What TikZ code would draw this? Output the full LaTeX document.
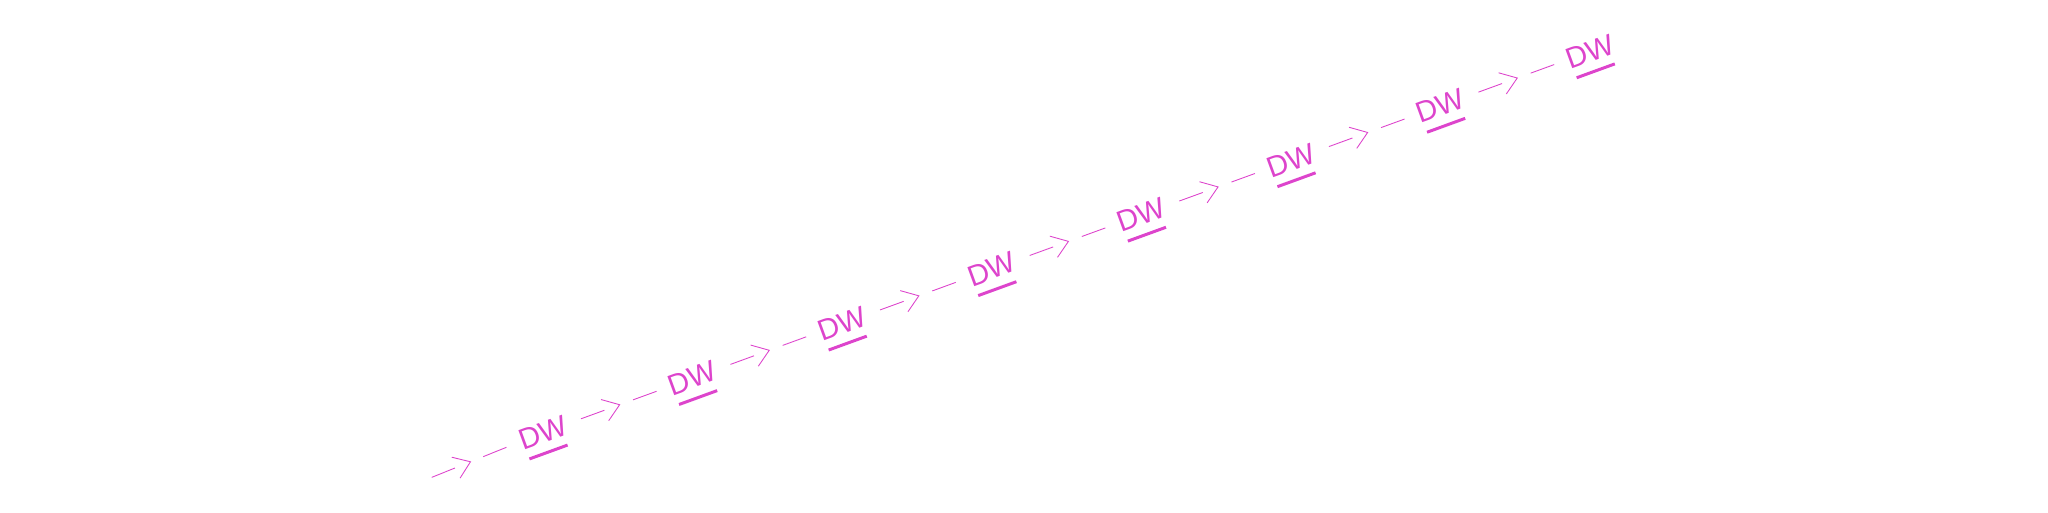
\documentclass[tikz,border=0pt]{standalone}
\usepackage{fontspec}
\setmainfont{Liberation Sans}
\usetikzlibrary{arrows.meta}
\usetikzlibrary{decorations.markings}
\definecolor{dwpink}{RGB}{221,68,204}

\begin{document}
\begin{tikzpicture}[
  dw/.style={text=dwpink, font=\fontsize{16.7}{20}\selectfont, inner xsep=0.25cm, anchor=base},
  uline/.style={dwpink, line width=1.7pt},
  conn/.style={dwpink, line width=0.5pt, dash pattern=on 0.5cm off 0.61cm, shorten <=0.066cm,
    postaction={decorate}, decoration={markings, mark=at position 0.535 with {\arrow[solid]{Straight Barb[length=0.314cm,width=0.45cm]}}}}]
\useasboundingbox (0,0) rectangle (40.96,10.24);

\begin{scope}[shift={(10.97,1.20)}, rotate=20, transform shape]
\coordinate (s) at (-2.434,0.32);
\node[dw] (d1) at (0.024,0.2) {DW};
\node[dw] (d2) at (3.208,0.2) {DW};
\node[dw] (d3) at (6.392,0.2) {DW};
\node[dw] (d4) at (9.576,0.2) {DW};
\node[dw] (d5) at (12.76,0.2) {DW};
\node[dw] (d6) at (15.944,0.2) {DW};
\node[dw] (d7) at (19.128,0.2) {DW};
\node[dw] (d8) at (22.312,0.2) {DW};

% underlines
\draw[uline] (d1.base)++(-0.43,-0.2)--++(0.812,0);
\draw[uline] (d2.base)++(-0.43,-0.2)--++(0.812,0);
\draw[uline] (d3.base)++(-0.43,-0.2)--++(0.812,0);
\draw[uline] (d4.base)++(-0.43,-0.2)--++(0.812,0);
\draw[uline] (d5.base)++(-0.43,-0.2)--++(0.812,0);
\draw[uline] (d6.base)++(-0.43,-0.2)--++(0.812,0);
\draw[uline] (d7.base)++(-0.43,-0.2)--++(0.812,0);
\draw[uline] (d8.base)++(-0.43,-0.2)--++(0.812,0);

% links
\draw[conn] (s)--(d1);
\draw[conn] (d1)--(d2);
\draw[conn] (d2)--(d3);
\draw[conn] (d3)--(d4);
\draw[conn] (d4)--(d5);
\draw[conn] (d5)--(d6);
\draw[conn] (d6)--(d7);
\draw[conn] (d7)--(d8);
\end{scope}
\end{tikzpicture}
\end{document}
